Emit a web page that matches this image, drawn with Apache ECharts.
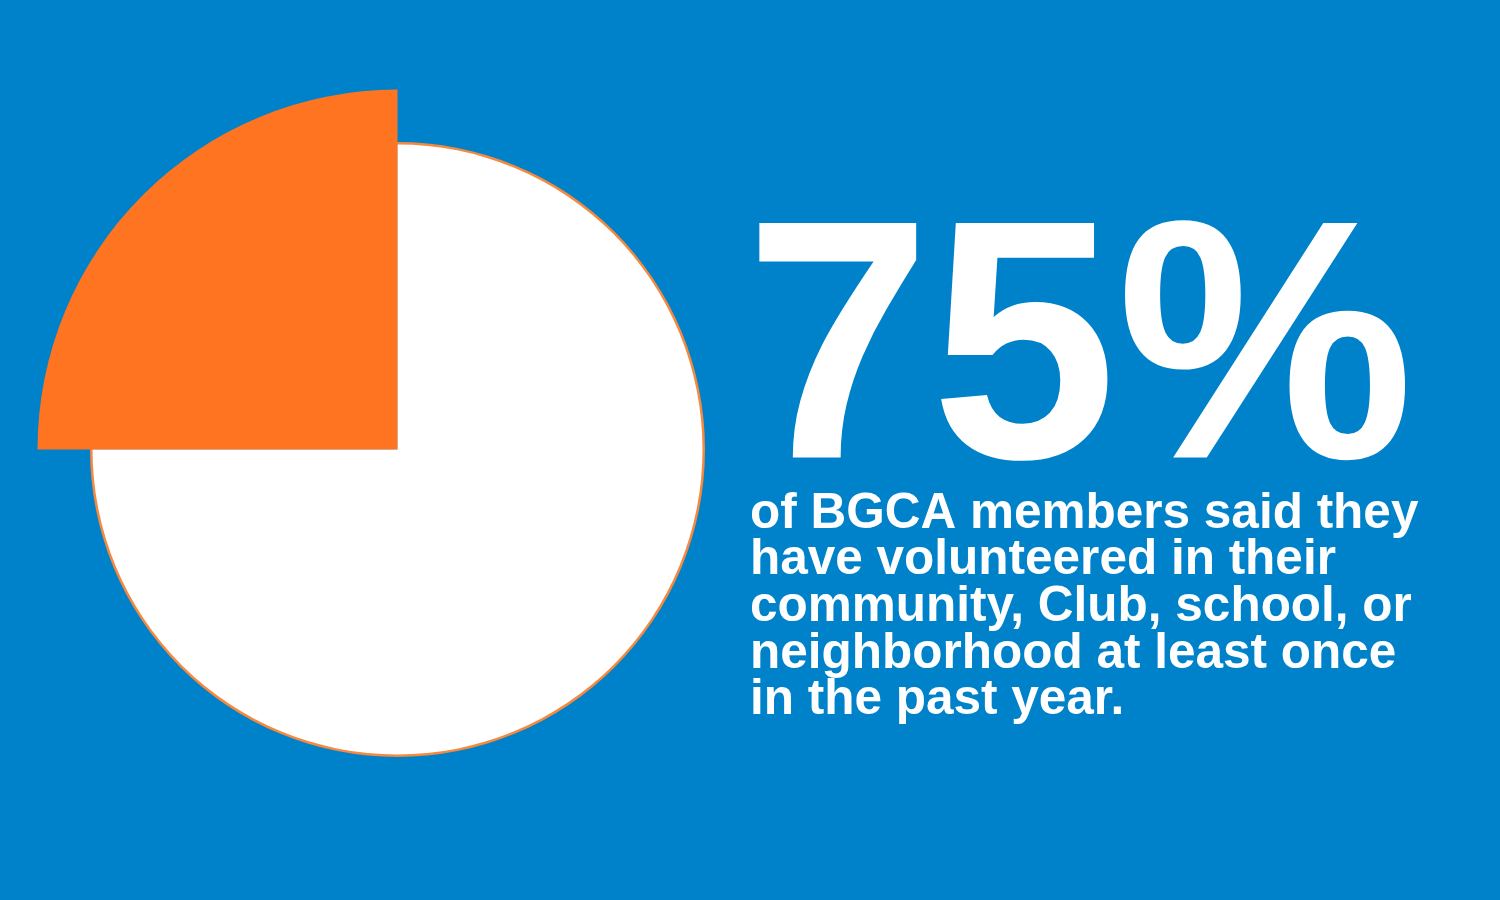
<!DOCTYPE html>
<html>
<head>
<meta charset="utf-8">
<script src="https://cdn.jsdelivr.net/npm/echarts@6/dist/echarts.min.js"></script>
<style>
html,body{margin:0;padding:0;background:#0082CA;}
#c{width:1500px;height:900px;}
</style>
</head>
<body>
<div id="c"></div>
<script>
var categories = ['Volunteered', 'Did not volunteer'];
var shares = [25, 75];
var headline = '75%';
var caption = ['of BGCA members said they', 'have volunteered in their', 'community, Club, school, or', 'neighborhood at least once', 'in the past year.'];

var chart = echarts.init(document.getElementById('c'));
var center = [397.5, 449.5];
chart.setOption({
  backgroundColor: '#0082CA',
  animation: false,
  series: [
    {
      type: 'pie',
      center: center,
      radius: [0, 306],
      startAngle: 90,
      clockwise: true,
      silent: true,
      label: {show: false},
      labelLine: {show: false},
      itemStyle: {color: '#FFFFFF', borderWidth: 0},
      data: [
        {name: categories[1], value: shares[1]},
        {name: categories[0], value: shares[0]}
      ],
      z: 1
    },
    {
      type: 'pie',
      center: center,
      radius: [305, 307.5],
      startAngle: 90,
      clockwise: true,
      silent: true,
      label: {show: false},
      labelLine: {show: false},
      itemStyle: {color: '#F5893F', borderWidth: 0},
      data: [
        {name: categories[1], value: shares[1]},
        {name: categories[0], value: shares[0]}
      ],
      z: 2
    },
    {
      type: 'pie',
      center: center,
      radius: [0, 360],
      startAngle: 90,
      clockwise: true,
      silent: true,
      label: {show: false},
      labelLine: {show: false},
      data: [
        {name: categories[1], value: shares[1], itemStyle: {color: 'rgba(0,0,0,0)'}},
        {name: categories[0], value: shares[0], itemStyle: {color: '#FE7420'}}
      ],
      z: 3
    }
  ],
  graphic: [
    {
      type: 'text',
      x: 745,
      y: 193,
      scaleX: 0.98,
      style: {
        text: headline,
        fill: '#FFFFFF',
        font: 'bold 341px "Liberation Sans", Arial, sans-serif',
        verticalAlign: 'top',
        align: 'left'
      }
    },
    {
      type: 'text',
      left: 750,
      top: 489,
      style: {
        text: caption.join('\n'),
        fill: '#FFFFFF',
        font: 'bold 49.5px "Liberation Sans", Arial, sans-serif',
        lineHeight: 46.7
      }
    }
  ]
});
</script>
</body>
</html>
